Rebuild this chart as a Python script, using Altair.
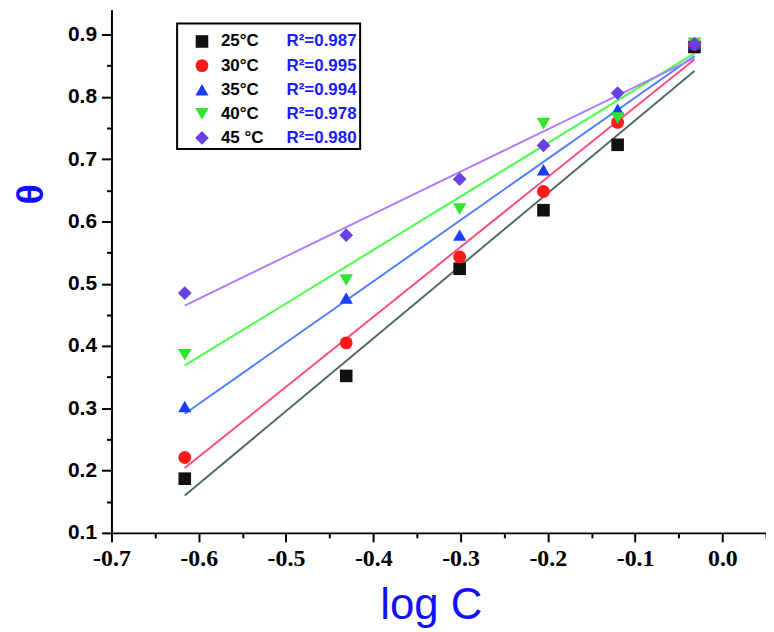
import altair as alt
import pandas as pd

# ---- data ----
log_c = [-0.616, -0.431, -0.301, -0.205, -0.120, -0.032]
temps = ["25°C", "30°C", "35°C", "40°C", "45°C"]
theta_25 = [0.187, 0.352, 0.524, 0.618, 0.723, 0.880]
theta_30 = [0.221, 0.405, 0.543, 0.648, 0.759, 0.884]
theta_35 = [0.303, 0.477, 0.578, 0.683, 0.780, 0.885]
theta_40 = [0.386, 0.506, 0.620, 0.757, 0.766, 0.886]
theta_45 = [0.485, 0.578, 0.668, 0.722, 0.806, 0.885]
legend_temp_labels = ["25°C", "30°C", "35°C", "40°C", "45 °C"]
r2_labels = ["R²=0.987", "R²=0.995", "R²=0.994", "R²=0.978", "R²=0.980"]

x_major = [-0.7, -0.6, -0.5, -0.4, -0.3, -0.2, -0.1, 0.0]
x_minor = [-0.65, -0.55, -0.45, -0.35, -0.25, -0.15, -0.05, 0.05]
y_major = [0.1, 0.2, 0.3, 0.4, 0.5, 0.6, 0.7, 0.8, 0.9]
y_minor = [0.15, 0.25, 0.35, 0.45, 0.55, 0.65, 0.75, 0.85]

series = [theta_25, theta_30, theta_35, theta_40, theta_45]
rows = []
for t, vals in zip(temps, series):
    for x, y in zip(log_c, vals):
        rows.append({"x": x, "y": y, "temp": t})
df = pd.DataFrame(rows)

leg_df = pd.DataFrame({
    "temp": temps,
    "tlabel": legend_temp_labels,
    "r2": r2_labels,
    "row": list(range(len(temps))),
})

# ---- styles ----
shape_scale = alt.Scale(domain=temps, range=["square", "circle", "triangle-up", "triangle-down", "diamond"])
fill_scale = alt.Scale(domain=temps, range=["#111111", "#ff1a1a", "#1a3cff", "#2ee62e", "#6a40e0"])
line_scale = alt.Scale(domain=temps, range=["#4f6a6a", "#ff4d7d", "#4d80ff", "#4dff4d", "#b07cff"])
size_scale = alt.Scale(domain=temps, range=[160, 190, 225, 225, 225])

is_major = "abs(datum.value*10 - round(datum.value*10)) < 0.001"

x_axis = alt.Axis(
    values=x_major + x_minor,
    labelExpr=f"{is_major} ? replace(format(datum.value, '.1f'), '\u2212', '-') : ''",
    tickSize={"condition": {"test": is_major, "value": 9}, "value": 5},
    labelFont="Liberation Sans Narrow",
    labelFontSize=24,
    labelFontWeight="bold",
    labelColor="black",
    labelPadding=5,
    labelFlush=False,
    title="log C",
    titleFont="Liberation Sans",
    titleFontSize=44,
    titleFontWeight="normal",
    titleColor="#1010ff",
    titleX=321,
    titleY=86,
    titleBaseline="alphabetic",
    titleAlign="center",
    grid=False,
)
y_axis = alt.Axis(
    values=y_major + y_minor,
    labelExpr=f"{is_major} ? format(datum.value, '.1f') : ''",
    tickSize={"condition": {"test": is_major, "value": 10}, "value": 5},
    labelFont="Liberation Sans",
    labelFontSize=21,
    labelFontWeight="bold",
    labelColor="black",
    labelPadding=5,
    labelFlush=False,
    title="θ",
    titleFont="Liberation Sans",
    titleFontSize=38,
    titleFontWeight="bold",
    titleColor="#1010ff",
    titleAngle=270,
    titleX=-80,
    titleY=185,
    titleBaseline="middle",
    titleAlign="center",
    grid=False,
)

X = alt.X("x:Q", scale=alt.Scale(domain=[-0.7, 0.05], nice=False, zero=False), axis=x_axis)
Y = alt.Y("y:Q", scale=alt.Scale(domain=[0.1, 0.94], nice=False, zero=False), axis=y_axis)

lines = alt.Chart(df).transform_regression(
    "x", "y", groupby=["temp"]
).mark_line(strokeWidth=2).encode(
    x=X, y=Y,
    stroke=alt.Stroke("temp:N", scale=line_scale, legend=None),
)

points = alt.Chart(df).mark_point(filled=True, opacity=1, strokeWidth=0).encode(
    x=X, y=Y,
    shape=alt.Shape("temp:N", scale=shape_scale, legend=None),
    fill=alt.Fill("temp:N", scale=fill_scale, legend=None),
    size=alt.Size("temp:N", scale=size_scale, legend=None),
)

main = alt.layer(lines, points)

# ---- hand-made legend box ----
box = alt.Chart(pd.DataFrame({"a": [0]})).mark_rect(
    fill="white", stroke="black", strokeWidth=2
).encode(
    x=alt.value(66), x2=alt.value(250), y=alt.value(14), y2=alt.value(140)
)
LY = alt.Y("row:Q", scale=alt.Scale(domain=[0, 4], range=[32, 129]), axis=None)
leg_sym = alt.Chart(leg_df).mark_point(filled=True, opacity=1, strokeWidth=0).encode(
    x=alt.value(91), y=LY,
    shape=alt.Shape("temp:N", scale=shape_scale, legend=None),
    fill=alt.Fill("temp:N", scale=fill_scale, legend=None),
    size=alt.Size("temp:N", scale=size_scale, legend=None),
)
leg_t = alt.Chart(leg_df).mark_text(
    align="left", baseline="middle", font="Liberation Sans", fontSize=17,
    fontWeight="bold", color="black"
).encode(x=alt.value(110), y=LY, text="tlabel:N")
leg_r = alt.Chart(leg_df).mark_text(
    align="left", baseline="middle", font="Liberation Sans", fontSize=17,
    fontWeight="bold", color="#1a1aff"
).encode(x=alt.value(176), y=LY, text="r2:N")
legend = alt.layer(box, leg_sym, leg_t, leg_r)

chart = alt.layer(main, legend).resolve_scale(y="independent").properties(
    width=658,
    height=526,
    autosize=alt.AutoSizeParams(type="none"),
    padding={"left": 104, "top": 0, "right": 0, "bottom": 98},
).configure_view(strokeWidth=0).configure_axis(
    domainColor="black", domainWidth=2, tickColor="black", tickWidth=2,
)

chart.save("out.html", embed_options={"renderer": "svg", "actions": False})
